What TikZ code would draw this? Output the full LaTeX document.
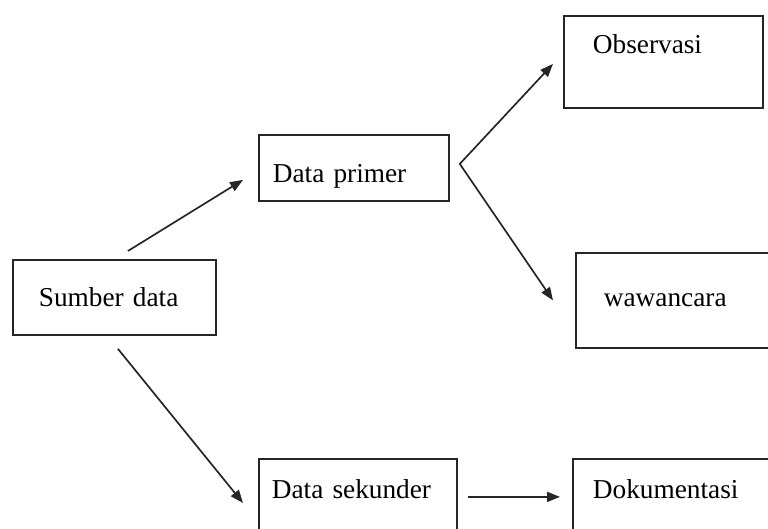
\documentclass[tikz,border=0pt]{standalone}
\usepackage{fontspec}
\setmainfont{Liberation Serif}
\usetikzlibrary{arrows.meta, calc}

\begin{document}
\begin{tikzpicture}[
  x=1pt, y=-1pt,
  >={Triangle[length=13pt, width=10pt]},
  box/.style={rectangle, draw=black!85, line width=1.8pt, anchor=north west, align=left,
    inner ysep=0pt, font=\fontsize{27.3}{33}\selectfont},
  arr/.style={->, line width=1.7pt, draw=black!85}
]
\useasboundingbox (0,0) rectangle (768,528);
\clip (0,0) rectangle (768,528);
% boxes
\node[box, inner xsep=26pt, text width=151pt, text height=47pt, text depth=28pt] (sumber) at (12,259) {Sumber data};
\node[box, inner xsep=14pt, text width=162pt, text height=48pt, text depth=18pt] (primer) at (258,134) {Data primer};
\node[box, inner xsep=13pt, text width=172pt, text height=40pt, text depth=40pt] (sekunder) at (258,458) {Data sekunder};
\node[box, inner xsep=29pt, text width=141pt, text height=38pt, text depth=54pt] (obs) at (563,15) {Observasi};
\node[box, inner xsep=28pt, text width=154pt, text height=54pt, text depth=41pt] (wawan) at (575,252) {wawancara};
\node[box, inner xsep=20pt, text width=170pt, text height=40pt, text depth=40pt] (dok) at (572,458) {Dokumentasi};
% arrows
\draw[arr] ([shift={(13.5,-8)}]sumber.north) -- ([shift={(-15,12)}]primer.west);
\draw[arr] ([shift={(3.5,13)}]sumber.south) -- ([shift={(-15,45)}]sekunder.north west);
\draw[arr, <->] ([shift={(-10,2)}]obs.west) -- ([shift={(10,-4)}]primer.east) -- ([shift={(-22,0)}]wawan.west);
\draw[arr] ([shift={(10,-2)}]sekunder.base east) -- ([shift={(-12,-2)}]dok.base west);
\end{tikzpicture}
\end{document}
